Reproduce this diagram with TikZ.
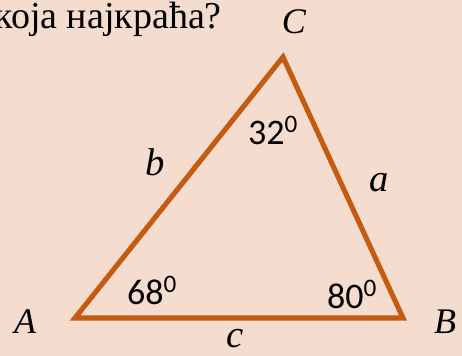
\documentclass[tikz,border=0pt]{standalone}
\usepackage{fontspec}
\setmainfont{Liberation Serif}
\newfontfamily\calib{Carlito}
\definecolor{peach}{HTML}{F4DDCF}
\definecolor{rust}{HTML}{C55A11}
\usetikzlibrary{positioning}

\begin{document}
\begin{tikzpicture}[
  x=0.75pt, y=-0.75pt,
  vertexlabel/.style={font=\fontsize{27}{30}\selectfont\itshape, inner sep=0pt},
  sidelabel/.style={font=\fontsize{29}{32}\selectfont\itshape, inner sep=0pt},
  anglelabel/.style={font=\calib\fontsize{27}{30}\selectfont, inner sep=0pt},
  edge/.style={draw=rust, line width=3.8pt, line join=miter},
]
  \fill[peach] (0,0) rectangle (462,356);
  \clip (0,0) rectangle (462,356);

  \node[font=\fontsize{28.5}{30}\selectfont, inner sep=0pt, anchor=base east]
    (question) at (222,29) {која најкраћа?};

  \coordinate (A) at (75,318);
  \coordinate (B) at (403,318);
  \coordinate (C) at (283,57);
  \draw[edge] (A) -- (B) -- (C) -- cycle;

  \node[vertexlabel] (labA) at (25,322) {A};
  \node[vertexlabel] (labB) at (445,322) {B};
  \node[vertexlabel] (labC) at (294,22) {C};

  \node[sidelabel] (laba) at (379,183) {a};
  \node[sidelabel] (labb) at (155,162) {b};
  \node[sidelabel] (labc) at (235,339) {c};

  \node[anglelabel] (angC) at (273,130) {32\textsuperscript{0}};
  \node[anglelabel] (angA) at (152,290) {68\textsuperscript{0}};
  \node[anglelabel] (angB) at (352,294) {80\textsuperscript{0}};
\end{tikzpicture}
\end{document}
